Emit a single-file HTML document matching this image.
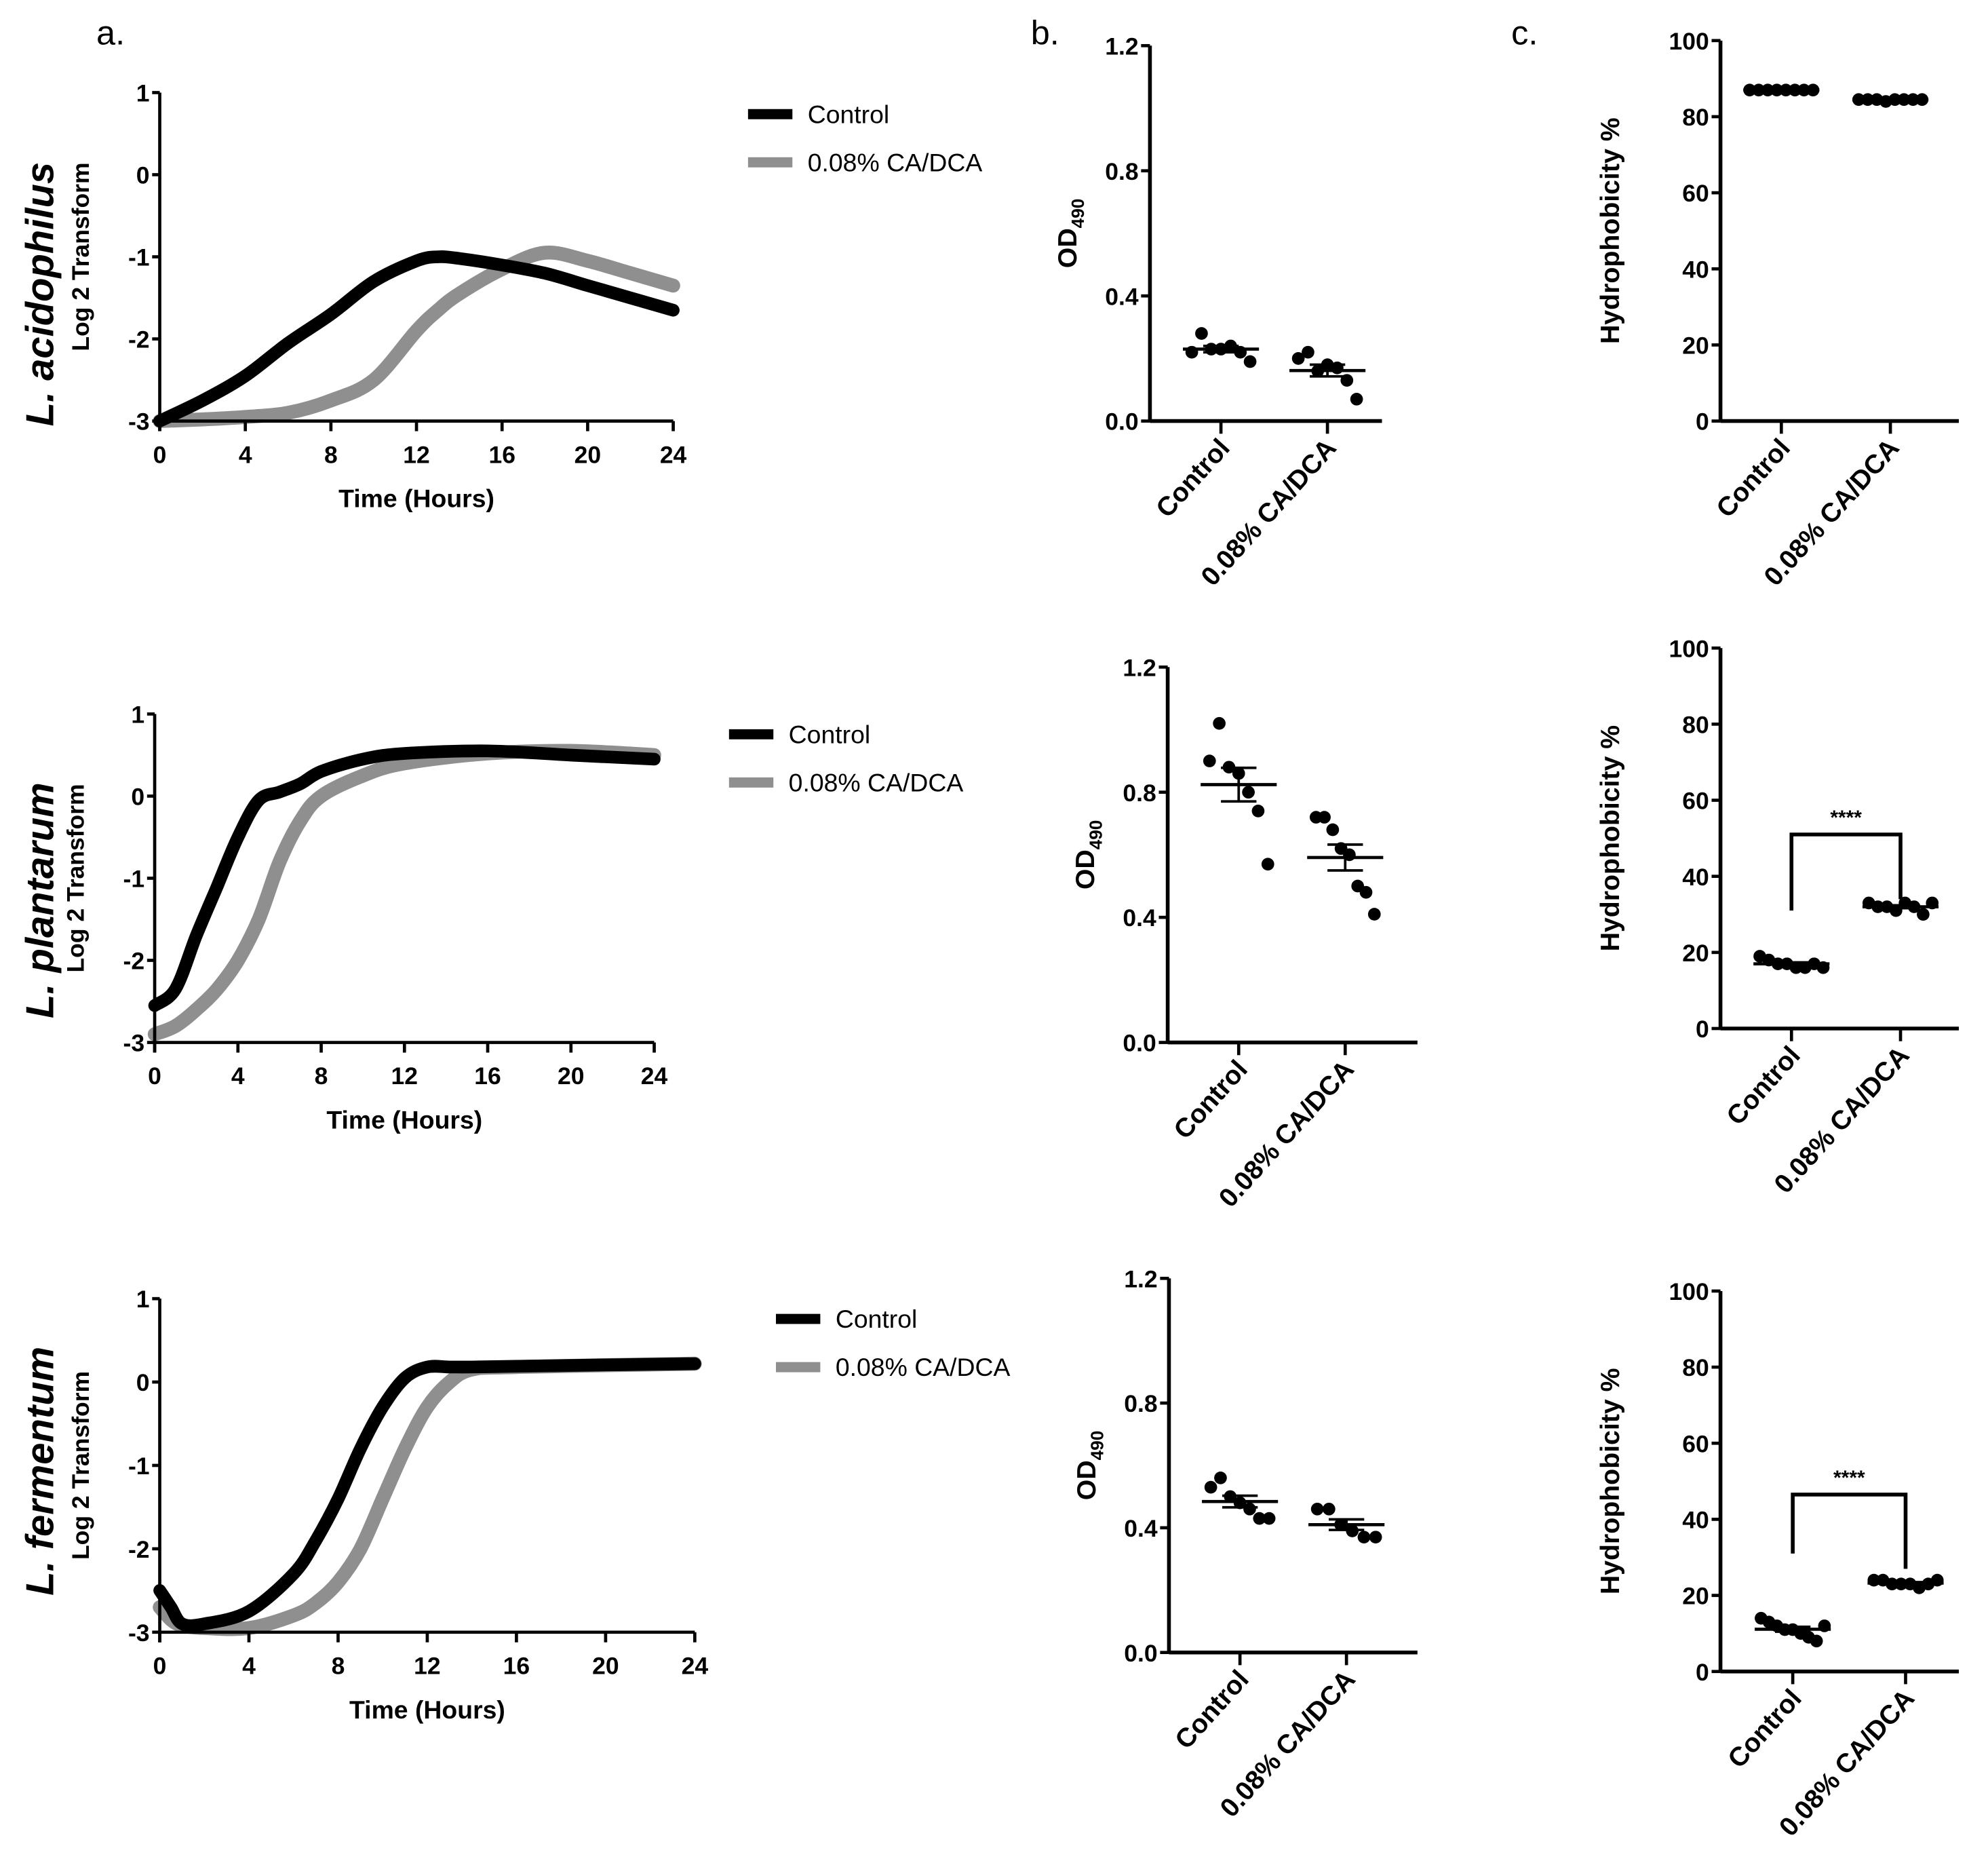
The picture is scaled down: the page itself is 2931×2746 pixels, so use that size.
<!DOCTYPE html>
<html><head><meta charset="utf-8"><style>
html,body{margin:0;padding:0;background:#fff;}
svg{display:block;}
text{font-family:"Liberation Sans",Arial,sans-serif;}
</style></head><body>
<svg id="fig" width="2931" height="2746" viewBox="0 0 1568 1469" preserveAspectRatio="none" xmlns="http://www.w3.org/2000/svg">
<text x="76" y="35" font-size="27">a.</text>
<text x="813" y="35" font-size="27">b.</text>
<text x="1192" y="35" font-size="27">c.</text>
<text transform="translate(42,232) rotate(-90)" text-anchor="middle" font-size="31" font-weight="bold" font-style="italic">L. acidophilus</text>
<text transform="translate(42,710) rotate(-90)" text-anchor="middle" font-size="31" font-weight="bold" font-style="italic">L. plantarum</text>
<text transform="translate(42,1160) rotate(-90)" text-anchor="middle" font-size="31" font-weight="bold" font-style="italic">L. fermentum</text>
</svg>
<script>
// ---- growth curve data (hours, log2) ----
const acidHours = [0,2,4,6,8,10,12,13,14,16,18,20,22,24];
const acidControl = [-3,-2.75,-2.45,-2.05,-1.7,-1.3,-1.05,-1.0,-1.02,-1.1,-1.2,-1.35,-1.5,-1.65];
const acidCA = [-3,-2.98,-2.95,-2.9,-2.75,-2.5,-1.9,-1.65,-1.45,-1.15,-0.95,-1.05,-1.2,-1.35];
const plantHours = [0,1,2,3,4,5,6,7,8,10,12,16,20,24];
const plantControl = [-2.55,-2.35,-1.7,-1.1,-0.5,-0.05,0.05,0.15,0.3,0.45,0.52,0.55,0.5,0.45];
const plantCA = [-2.9,-2.8,-2.6,-2.35,-2.0,-1.5,-0.8,-0.3,0.0,0.25,0.4,0.52,0.55,0.5];
const fermHours = [0,0.5,1,2,4,6,7,8,9,10,11,12,13,14,16,24];
const fermControl = [-2.5,-2.7,-2.9,-2.9,-2.75,-2.3,-1.9,-1.4,-0.8,-0.3,0.05,0.18,0.18,0.18,0.19,0.22];
const fermCA = [-2.7,-2.85,-2.92,-2.95,-2.95,-2.8,-2.65,-2.4,-2.0,-1.4,-0.8,-0.3,0.0,0.15,0.18,0.22];
const growthYTicks = [1,0,-1,-2,-3];
const growthXTicks = [0,4,8,12,16,20,24];
// ---- scatter data ----
const odAcidControl = [0.22,0.28,0.23,0.23,0.24,0.22,0.19];
const odAcidCA = [0.2,0.22,0.16,0.18,0.17,0.13,0.07];
const odPlantControl = [0.9,1.02,0.88,0.86,0.8,0.74,0.57];
const odPlantCA = [0.72,0.72,0.68,0.62,0.6,0.5,0.48,0.41];
const odFermControl = [0.53,0.56,0.5,0.48,0.46,0.43,0.43];
const odFermCA = [0.46,0.46,0.41,0.39,0.37,0.37];
const hydAcidControl = [87,87,87,87,87,87,87,87];
const hydAcidCA = [84.5,84.5,84.5,84,84.5,84.5,84.5,84.5];
const hydPlantControl = [19,18,17,17,16,16,17,16];
const hydPlantCA = [33,32,32,31,33,32,30,33];
const hydFermControl = [14,13,12,11,11,10,9,8,12];
const hydFermCA = [24,24,23,23,23,22,23,24];
const categories = ["Control","0.08% CA/DCA"];
const odTicks = [0,0.4,0.8,1.2];
const hydTicks = [0,20,40,60,80,100];

const NS = "http://www.w3.org/2000/svg";
const svg = document.getElementById('fig');
function el(tag, attrs, parent){
  const e = document.createElementNS(NS, tag);
  for (const k in attrs) e.setAttribute(k, attrs[k]);
  (parent||svg).appendChild(e);
  return e;
}
function txt(x,y,s,size,extra,parent){
  const t = el('text',Object.assign({x:x,y:y,'font-size':size},extra||{}),parent);
  t.textContent = s; return t;
}
function smoothPath(pts){
  let d = 'M'+pts[0][0].toFixed(1)+','+pts[0][1].toFixed(1);
  for (let i=0;i<pts.length-1;i++){
    const p0 = pts[i-1]||pts[i], p1=pts[i], p2=pts[i+1], p3=pts[i+2]||p2;
    const c1x = p1[0]+(p2[0]-p0[0])/6, c1y = p1[1]+(p2[1]-p0[1])/6;
    const c2x = p2[0]-(p3[0]-p1[0])/6, c2y = p2[1]-(p3[1]-p1[1])/6;
    d += 'C'+c1x.toFixed(1)+','+c1y.toFixed(1)+' '+c2x.toFixed(1)+','+c2y.toFixed(1)+' '+p2[0].toFixed(1)+','+p2[1].toFixed(1);
  }
  return d;
}

function growth(cfg){
  const g = el('g',{});
  
  
  const sx = v => cfg.x0 + (cfg.x1-cfg.x0)*v/24;
  const sy = v => cfg.yb + (cfg.yt-cfg.yb)*(v+3)/4;
  const series = [[cfg.ca,'#8f8f8f',11,'ca-curve'],[cfg.ctrl,'#000',10,'control-curve']];
  series.forEach(s=>{
    const pts = cfg.hours.map((h,i)=>[sx(h),sy(s[0][i])]);
    const p = el('path',{d:smoothPath(pts),fill:'none',stroke:s[1],'stroke-width':s[2],'stroke-linejoin':'round','stroke-linecap':'round'},g);
    
    
  });
  const ya = el('line',{x1:cfg.x0,y1:cfg.yt,x2:cfg.x0,y2:cfg.yb+8,stroke:'#000','stroke-width':2.5},g);
   
  const xa = el('line',{x1:cfg.x0,y1:cfg.yb,x2:cfg.x1,y2:cfg.yb,stroke:'#000','stroke-width':2.5},g);
   
  growthYTicks.forEach(v=>{
    el('line',{x1:cfg.x0-6,y1:sy(v),x2:cfg.x0,y2:sy(v),stroke:'#000','stroke-width':2.5},g);
    const t = txt(cfg.x0-8,sy(v)+7,String(v),19,{'text-anchor':'end','font-weight':'bold'},g);
     
  });
  growthXTicks.forEach(v=>{
    el('line',{x1:sx(v),y1:cfg.yb,x2:sx(v),y2:cfg.yb+8,stroke:'#000','stroke-width':2.5},g);
    const t = txt(sx(v),cfg.yb+33,String(v),19,{'text-anchor':'middle','font-weight':'bold'},g);
     
  });
  const xt = txt((cfg.x0+cfg.x1)/2,cfg.yb+68,'Time (Hours)',20,{'text-anchor':'middle','font-weight':'bold'},g);
   
  const yt = txt(0,0,'Log 2 Transform',19,{'text-anchor':'middle','font-weight':'bold',transform:'translate('+(cfg.x0-56)+','+((cfg.yt+cfg.yb)/2)+') rotate(-90)'},g);
   
  [['Control','#000',0],['0.08% CA/DCA','#8f8f8f',38]].forEach((L,i)=>{
    const lg = el('g',{},g);
    
    
    el('line',{x1:cfg.lx,y1:cfg.ly+L[2],x2:cfg.lx+35,y2:cfg.ly+L[2],stroke:L[1],'stroke-width':8},lg);
    txt(cfg.lx+47,cfg.ly+L[2]+7,L[0],20,{},lg);
  });
}
growth({name:'growth-chart-acidophilus',x0:126,x1:531,yt:73,yb:332,hours:acidHours,ctrl:acidControl,ca:acidCA,lx:590,ly:90});
growth({name:'growth-chart-plantarum',x0:122,x1:516,yt:563,yb:822,hours:plantHours,ctrl:plantControl,ca:plantCA,lx:575,ly:579});
growth({name:'growth-chart-fermentum',x0:126,x1:548,yt:1024,yb:1287,hours:fermHours,ctrl:fermControl,ca:fermCA,lx:612,ly:1040});

function scatter(cfg){
  const g = el('g',{});
  
  
  const sy = v => cfg.y0 + (cfg.y1-cfg.y0)*(v-cfg.min)/(cfg.max-cfg.min);
  const cx = [cfg.c1,cfg.c2];
  [cfg.a,cfg.b].forEach((vals,k)=>{
    const n = vals.length;
    const mean = vals.reduce((s,v)=>s+v,0)/n;
    const sd = Math.sqrt(vals.reduce((s,v)=>s+(v-mean)*(v-mean),0)/(n-1));
    const sem = sd/Math.sqrt(n);
    vals.forEach((v,i)=>{
      const off = n>1 ? (i-(n-1)/2)*(cfg.spread/(n-1)) : 0;
      const c = el('circle',{cx:cx[k]+off,cy:sy(v),r:5,fill:'#000'},g);
      
      
    });
    const m = el('line',{x1:cx[k]-30,y1:sy(mean),x2:cx[k]+30,y2:sy(mean),stroke:'#000','stroke-width':2.5},g);
     
    el('line',{x1:cx[k],y1:sy(mean-sem),x2:cx[k],y2:sy(mean+sem),stroke:'#000','stroke-width':2},g);
    el('line',{x1:cx[k]-14,y1:sy(mean+sem),x2:cx[k]+14,y2:sy(mean+sem),stroke:'#000','stroke-width':2},g);
    el('line',{x1:cx[k]-14,y1:sy(mean-sem),x2:cx[k]+14,y2:sy(mean-sem),stroke:'#000','stroke-width':2},g);
  });
  const ya = el('line',{x1:cfg.x0,y1:cfg.y1,x2:cfg.x0,y2:cfg.y0,stroke:'#000','stroke-width':3},g);
   
  const xa = el('line',{x1:cfg.x0,y1:cfg.y0,x2:cfg.xe,y2:cfg.y0,stroke:'#000','stroke-width':3},g);
   
  cfg.ticks.forEach(v=>{
    el('line',{x1:cfg.x0-7,y1:sy(v),x2:cfg.x0,y2:sy(v),stroke:'#000','stroke-width':2.5},g);
    const t = txt(cfg.x0-9,sy(v)+7,cfg.fmt(v),19,{'text-anchor':'end','font-weight':'bold'},g);
     
  });
  categories.forEach((c,k)=>{
    el('line',{x1:cx[k],y1:cfg.y0,x2:cx[k],y2:cfg.y0+10,stroke:'#000','stroke-width':2.5},g);
    const t = txt(0,0,c,21,{'text-anchor':'end','font-weight':'bold',transform:'translate('+(cx[k]+8)+','+(cfg.y0+22)+') rotate(-48)'},g);
     
  });
  const yt = el('text',{'font-size':21,'font-weight':'bold','text-anchor':'middle',transform:'translate('+(cfg.x0-cfg.tOff)+','+((cfg.y0+cfg.y1)/2)+') rotate(-90)'},g);
   
  if (cfg.od){
    const a = document.createElementNS(NS,'tspan'); a.textContent='OD'; yt.appendChild(a);
    const b = document.createElementNS(NS,'tspan'); b.setAttribute('font-size','14'); b.setAttribute('dy','6'); b.textContent='490'; yt.appendChild(b);
  } else yt.textContent = 'Hydrophobicity %';
  if (cfg.br){
    const bg = el('g',{},g);
    
    
    el('path',{d:'M'+cx[0]+','+sy(cfg.br[1])+'V'+sy(cfg.br[0])+'H'+cx[1]+'V'+sy(cfg.br[2]),fill:'none',stroke:'#000','stroke-width':3},bg);
    txt((cx[0]+cx[1])/2,sy(cfg.br[0])-8,'****',16,{'text-anchor':'middle','font-weight':'bold'},bg);
  }
}
const fod = v=>v.toFixed(1), fh = v=>String(v);
scatter({name:'biofilm-chart-acidophilus',od:true,x0:907,xe:1090,y0:332,y1:36,min:0,max:1.2,c1:963,c2:1047,a:odAcidControl,b:odAcidCA,ticks:odTicks,fmt:fod,spread:46,tOff:58});
scatter({name:'biofilm-chart-plantarum',od:true,x0:921,xe:1118,y0:822,y1:526,min:0,max:1.2,c1:977,c2:1061,a:odPlantControl,b:odPlantCA,ticks:odTicks,fmt:fod,spread:46,tOff:58});
scatter({name:'biofilm-chart-fermentum',od:true,x0:922,xe:1118,y0:1303,y1:1008,min:0,max:1.2,c1:978,c2:1062,a:odFermControl,b:odFermCA,ticks:odTicks,fmt:fod,spread:46,tOff:58});
scatter({name:'hydrophobicity-chart-acidophilus',x0:1357,xe:1545,y0:332,y1:32,min:0,max:100,c1:1405,c2:1491,a:hydAcidControl,b:hydAcidCA,ticks:hydTicks,fmt:fh,spread:50,tOff:80});
scatter({name:'hydrophobicity-chart-plantarum',x0:1357,xe:1545,y0:811,y1:511,min:0,max:100,c1:1413,c2:1499,a:hydPlantControl,b:hydPlantCA,ticks:hydTicks,fmt:fh,spread:50,tOff:80,br:[51,31,34]});
scatter({name:'hydrophobicity-chart-fermentum',x0:1357,xe:1545,y0:1318,y1:1018,min:0,max:100,c1:1414,c2:1503,a:hydFermControl,b:hydFermCA,ticks:hydTicks,fmt:fh,spread:50,tOff:80,br:[46.5,31,27]});
</script>
</body></html>
